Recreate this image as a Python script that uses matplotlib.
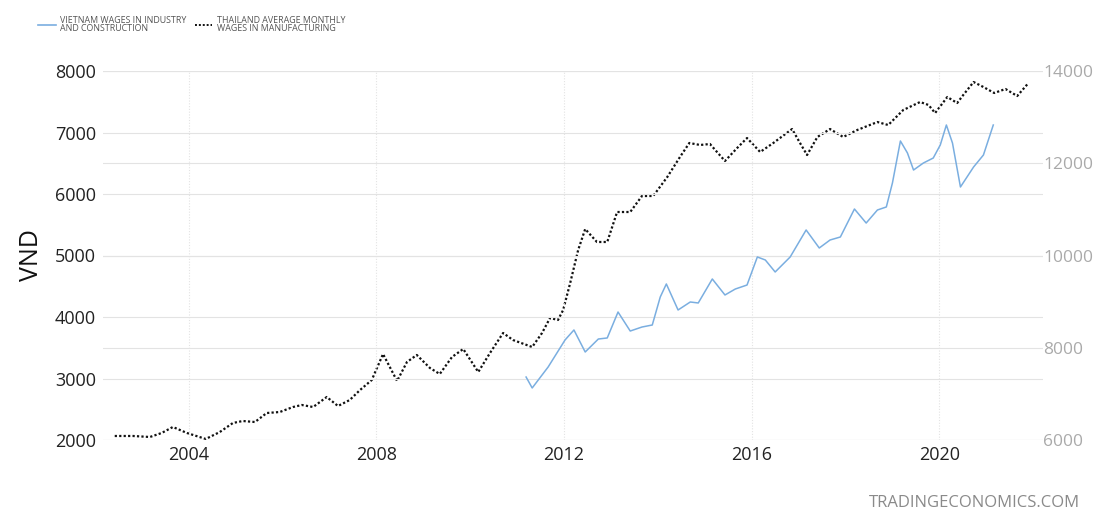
import matplotlib
matplotlib.use("Agg")
import matplotlib.pyplot as plt
from matplotlib.lines import Line2D

# Vietnam wages in industry and construction (left axis, VND)
vn_years = [2011.19, 2011.32, 2011.66, 2012.02, 2012.21, 2012.45, 2012.73, 2012.92, 2013.15,
            2013.41, 2013.66, 2013.88, 2014.05, 2014.18, 2014.43, 2014.69, 2014.86, 2015.16,
            2015.43, 2015.65, 2015.90, 2016.12, 2016.29, 2016.50, 2016.82, 2017.16, 2017.44,
            2017.67, 2017.89, 2018.19, 2018.44, 2018.68, 2018.87, 2019.00, 2019.17, 2019.32,
            2019.45, 2019.66, 2019.87, 2020.02, 2020.15, 2020.28, 2020.45, 2020.73, 2020.94,
            2021.15]
vn_values = [3024, 2846, 3187, 3626, 3789, 3431, 3642, 3659, 4081,
             3772, 3837, 3870, 4325, 4537, 4114, 4244, 4228, 4618,
             4358, 4455, 4520, 4976, 4927, 4732, 4976, 5415, 5122,
             5252, 5301, 5756, 5528, 5740, 5789, 6179, 6862, 6667,
             6390, 6504, 6585, 6797, 7122, 6829, 6114, 6439, 6634,
             7122]

# Thailand average monthly wages in manufacturing (right axis)
th_years = [2002.42, 2002.81, 2003.17, 2003.42, 2003.66, 2003.96, 2004.36, 2004.66, 2004.94,
            2005.15, 2005.41, 2005.66, 2005.94, 2006.22, 2006.41, 2006.65, 2006.94, 2007.18,
            2007.43, 2007.65, 2007.90, 2008.14, 2008.44, 2008.65, 2008.86, 2009.14, 2009.35,
            2009.61, 2009.85, 2010.17, 2010.42, 2010.70, 2010.91, 2011.32, 2011.53, 2011.70,
            2011.87, 2011.98, 2012.13, 2012.30, 2012.45, 2012.70, 2012.92, 2013.13, 2013.41,
            2013.66, 2013.90, 2014.20, 2014.47, 2014.67, 2014.90, 2015.11, 2015.26, 2015.43,
            2015.69, 2015.90, 2016.18, 2016.46, 2016.86, 2017.03, 2017.18, 2017.40, 2017.67,
            2017.95, 2018.25, 2018.68, 2018.91, 2019.23, 2019.59, 2019.77, 2019.91, 2020.17,
            2020.38, 2020.51, 2020.73, 2020.94, 2021.17, 2021.41, 2021.66, 2021.90]
th_values = [6087, 6087, 6065, 6152, 6282, 6152, 6022, 6173, 6369,
             6412, 6390, 6585, 6607, 6715, 6759, 6715, 6932, 6737,
             6867, 7084, 7301, 7864, 7279, 7691, 7843, 7561, 7431,
             7799, 7973, 7474, 7886, 8320, 8168, 8016, 8320, 8645,
             8602, 8818, 9404, 10119, 10574, 10293, 10293, 10943, 10943,
             11290, 11290, 11702, 12135, 12439, 12396, 12417, 12244, 12049,
             12331, 12547, 12244, 12439, 12742, 12439, 12179, 12569, 12742,
             12569, 12721, 12894, 12829, 13154, 13328, 13263, 13089, 13436,
             13306, 13480, 13761, 13653, 13523, 13610, 13458, 13740]

x_ticks = [2004, 2008, 2012, 2016, 2020]
left_ticks = [2000, 3000, 4000, 5000, 6000, 7000, 8000]
right_ticks = [6000, 8000, 10000, 12000, 14000]

plt.rcParams['font.family'] = ['Open Sans', 'DejaVu Sans']

fig = plt.figure(figsize=(10.98, 5.13), dpi=100)
ax = fig.add_axes([103/1098, 1-440/513, (1043-103)/1098, (440-71)/513])
ax2 = ax.twinx()

grid_col = '#e3e3e3'
ax.set_xlim(2002.17, 2022.21)
ax.set_ylim(2000, 8000)
ax2.set_ylim(6000, 14000)

ax.set_xticks(x_ticks)
ax.set_yticks(left_ticks)
ax2.set_yticks(right_ticks)

ax.grid(axis='y', color=grid_col, lw=0.8, ls='-')
ax.grid(axis='x', color=grid_col, lw=0.8, ls=(0, (1, 1.5)))
ax2.grid(axis='y', color=grid_col, lw=0.8, ls='-')
ax.set_axisbelow(True)
ax2.set_axisbelow(True)

for a in (ax, ax2):
    for s in a.spines.values():
        s.set_visible(False)
    a.tick_params(length=0)

ax.tick_params(axis='y', labelsize=13, labelcolor='#222222', pad=5)
ax.tick_params(axis='x', labelsize=13, labelcolor='#222222', pad=4)
ax2.tick_params(axis='y', labelsize=12.5, labelcolor='#aaaaaa', pad=0)

vn_color = '#7aaee0'
ax2.plot(th_years, th_values, color='#111111', lw=1.6, ls=(0, (1, 1)), zorder=3)
ax.plot(vn_years, vn_values, color=vn_color, lw=1.1, zorder=4, solid_joinstyle='round')
ax.set_zorder(ax2.get_zorder() + 1)
ax.patch.set_visible(False)

ax.set_ylabel('VND', fontsize=18, color='#111111', labelpad=8)

handles = [Line2D([], [], color=vn_color, lw=1.2),
           Line2D([], [], color='#111111', lw=1.4, ls=(0, (1, 1)))]
labels = ['VIETNAM WAGES IN INDUSTRY\nAND CONSTRUCTION',
          'THAILAND AVERAGE MONTHLY\nWAGES IN MANUFACTURING']
leg = fig.legend(handles, labels, loc='upper left', bbox_to_anchor=(30/1098, 1-8/513),
                 ncol=2, frameon=False, fontsize=6.4, handlelength=2.0, handletextpad=0.5,
                 columnspacing=0.9, labelspacing=0.2)
for t in leg.get_texts():
    t.set_color('#555555')
    t.set_linespacing(0.9)

fig.text(1080/1098, 1-503/513, 'TRADINGECONOMICS.COM', ha='right', va='center',
         fontsize=12, color='#8a8a8a')

fig.savefig('out.png', dpi=100)
